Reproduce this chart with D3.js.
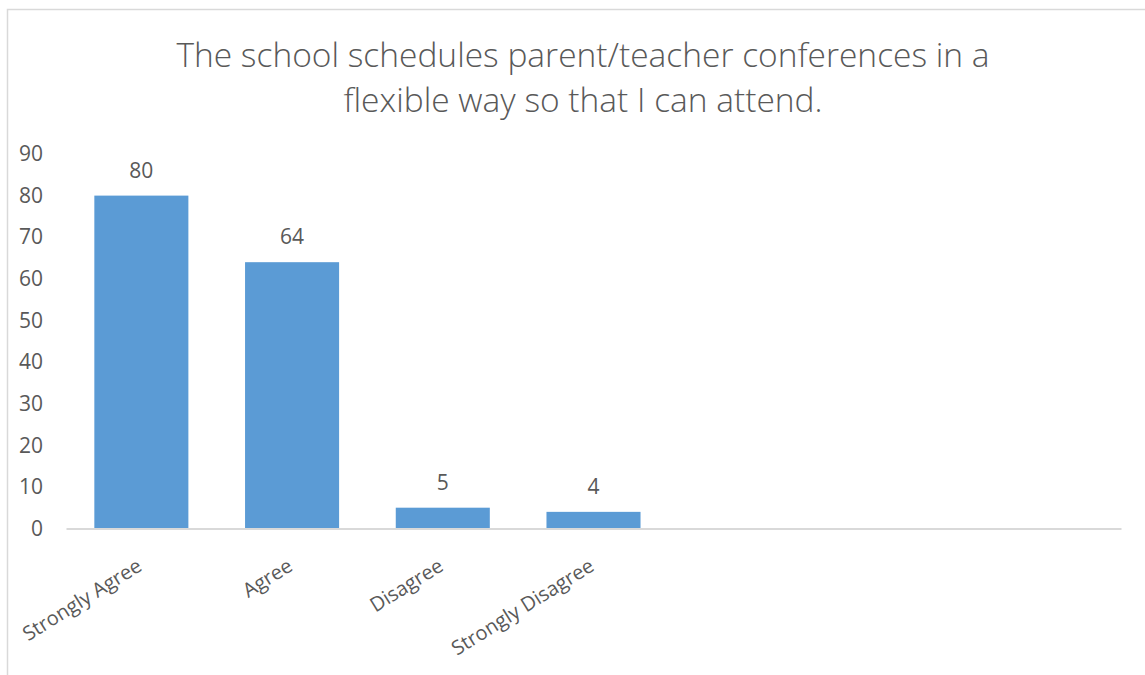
<!DOCTYPE html>
<html>
<head>
<meta charset="utf-8">
<script src="https://cdn.jsdelivr.net/npm/d3@7"></script>
<style>
  body { margin: 0; background: #fff; }
  text { font-family: "Open Sans", sans-serif; fill: #595959; }
  .axis .domain { stroke: #d9d9d9; stroke-width: 2; }
</style>
</head>
<body>
<div id="chart"></div>
<script>
// data (last three slots are empty in the original)
var categories = ["Strongly Agree", "Agree", "Disagree", "Strongly Disagree", "", "", ""];
var values = [80, 64, 5, 4, null, null, null];
var yTicks = [0, 10, 20, 30, 40, 50, 60, 70, 80, 90];
var titleLines = ["The school schedules parent/teacher conferences in a",
                  "flexible way so that I can attend."];

var W = 1145, H = 675;
var plot = {left: 66, right: 1121, top: 154, bottom: 528.5};

var svg = d3.select("#chart")
    .append("svg")
    .attr("width", W)
    .attr("height", H);

// chart frame (only left/top edges are inside the picture)
svg.append("rect")
    .attr("x", 7.5).attr("y", 9.5)
    .attr("width", W + 20).attr("height", H + 20)
    .attr("fill", "#fff")
    .attr("stroke", "#d9d9d9")
    .attr("stroke-width", 1.5);

var x = d3.scaleBand()
    .domain(d3.range(categories.length))
    .range([plot.left, plot.right])
    .paddingInner(0.376)
    .paddingOuter(0.188);

var y = d3.scaleLinear()
    .domain([0, 90])
    .range([plot.bottom, plot.top]);

// title
svg.append("g")
    .attr("class", "title")
    .selectAll("text")
    .data(titleLines)
    .enter().append("text")
    .attr("x", 583)
    .attr("y", function (d, i) { return 67 + i * 45; })
    .attr("text-anchor", "middle")
    .style("font-size", "33.5px")
    .style("font-weight", 300)
    .text(function (d) { return d; });

// y axis
var yAxis = svg.append("g")
    .attr("class", "axis axis--y")
    .attr("transform", "translate(" + plot.left + ",0)")
    .call(d3.axisLeft(y).tickValues(yTicks).tickSize(0).tickPadding(23));
yAxis.select(".domain").remove();
yAxis.selectAll("text")
    .style("font-size", "21px")
    .style("font-family", null);

// bars
var barData = values.map(function (v, i) { return {i: i, v: v}; })
    .filter(function (d) { return d.v != null; });

svg.append("g")
    .attr("class", "bars")
    .selectAll("rect")
    .data(barData)
    .enter().append("rect")
    .attr("x", function (d) { return x(d.i); })
    .attr("y", function (d) { return y(d.v); })
    .attr("width", x.bandwidth())
    .attr("height", function (d) { return y(0) - y(d.v); })
    .attr("fill", "#5b9bd5");

// value labels
svg.append("g")
    .attr("class", "labels")
    .selectAll("text")
    .data(barData)
    .enter().append("text")
    .attr("x", function (d) { return x(d.i) + x.bandwidth() / 2; })
    .attr("y", function (d) { return y(d.v) - 18; })
    .attr("text-anchor", "middle")
    .style("font-size", "21px")
    .text(function (d) { return d.v; });

// x axis
var xAxis = svg.append("g")
    .attr("class", "axis axis--x")
    .attr("transform", "translate(0," + plot.bottom + ")")
    .call(d3.axisBottom(x).tickSize(0).tickSizeOuter(0)
        .tickFormat(function (i) { return categories[i]; }));
xAxis.selectAll("text")
    .style("font-size", "20px")
    .style("font-family", null)
    .attr("text-anchor", "end")
    .attr("dy", null)
    .attr("y", 0)
    .attr("transform", "translate(2,41) rotate(-32)");
</script>
</body>
</html>
